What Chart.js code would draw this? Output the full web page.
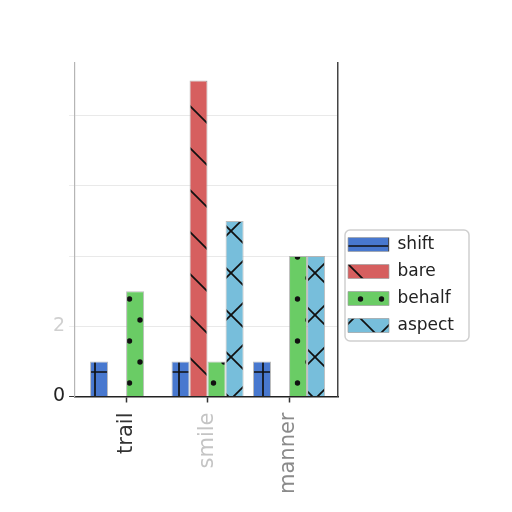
<!DOCTYPE html>
<html>
<head>
<meta charset="utf-8">
<script src="https://cdn.jsdelivr.net/npm/chart.js@4.4.1/dist/chart.umd.min.js"></script>
<style>
  html, body { margin: 0; padding: 0; background: #fff; }
  #wrap { width: 512px; height: 512px; }
</style>
</head>
<body>
<div id="wrap"><canvas id="myChart"></canvas></div>
<script>
// data
const categories = ["trail", "smile", "manner"];
const seriesNames = ["shift", "bare", "behalf", "aspect"];
const shiftValues = [1, 1, 1];
const bareValues = [0, 9, 0];
const behalfValues = [3, 1, 4];
const aspectValues = [0, 5, 4];
const yTickLabels = ["0", "2"];

// hatch patterns (matplotlib style, aligned to the canvas)
const P = 42;
function hatch(color, w, h, draw) {
  const c = document.createElement("canvas");
  c.width = w;
  c.height = h;
  const g = c.getContext("2d");
  g.fillStyle = color;
  g.fillRect(0, 0, w, h);
  g.strokeStyle = "#111";
  g.fillStyle = "#111";
  g.lineWidth = 1.7;
  draw(g);
  return g.createPattern(c, "repeat");
}
function line(g, x1, y1, x2, y2) {
  g.beginPath();
  g.moveTo(x1, y1);
  g.lineTo(x2, y2);
  g.stroke();
}
const plusHatch = hatch("#4878cf", P, P, (g) => {
  line(g, 11, 0, 11, P);
  line(g, 0, 36, P, 36);
});
const backHatch = hatch("#d65f5f", P, P, (g) => {
  line(g, -P, -P, 2 * P, 2 * P);
  line(g, -P, 0, P, 2 * P);
  line(g, 0, -P, 2 * P, P);
});
const dotHatch = hatch("#6acc65", 21, P, (g) => {
  [[3.5, 5], [14, 26]].forEach(([x, y]) => {
    g.beginPath();
    g.arc(x, y, 2.7, 0, Math.PI * 2);
    g.fill();
  });
});
const crossHatch = hatch("#77bedb", P, P, (g) => {
  line(g, -P, -P, 2 * P, 2 * P);
  line(g, -P, 0, P, 2 * P);
  line(g, 0, -P, 2 * P, P);
  line(g, -P, P, P, -P);
  line(g, -P, 2 * P, 2 * P, -P);
  line(g, 0, 2 * P, 2 * P, 0);
});

const fills = [plusHatch, backHatch, dotHatch, crossHatch];
const allValues = [shiftValues, bareValues, behalfValues, aspectValues];
const tickColors = ["#333", "#c4c4c4", "#8a8a8a"];

//legend moved next to the axes + rounded frame
const legendSpot = {
  id: "legendSpot",
  afterLayout(chart) {
    const lg = chart.legend;
    lg.left = 338;
    lg.top = 226;
    lg.right = 505;
    lg.bottom = 370;
    lg.width = lg.right - lg.left;
    lg.height = lg.bottom - lg.top;
  },
  afterDraw(chart) {
    const { ctx } = chart;
    const lg = chart.legend;
    ctx.save();
    ctx.strokeStyle = "#cfcfcf";
    ctx.lineWidth = 1.5;
    ctx.beginPath();
    ctx.roundRect(lg.left + 7, lg.top + 4, 124, 111, 5);
    ctx.stroke();
    ctx.restore();
  },
};

const ctx = document.getElementById("myChart").getContext("2d");
const chart = new Chart(ctx, {
  type: "bar",
  data: {
    datasets: seriesNames.map((name, s) => ({
      label: name,
      data: allValues[s].map((v, i) => ({ x: i, y: v })),
      backgroundColor: fills[s],
      borderColor: "rgba(160,160,160,0.7)",
      borderWidth: 1,
      categoryPercentage: 0.885,
      barPercentage: 1.0,
    })),
  },
  options: {
    responsive: true,
    maintainAspectRatio: false,
    animation: false,
    layout: {
      padding: { left: 49, right: 174, top: 63, bottom: 8 },
    },
    plugins: {
      legend: {
        position: "chartArea",
        align: "start",
        labels: {
          boxWidth: 41,
          boxHeight: 14,
          padding: 10,
          color: "#222",
          font: { family: "DejaVu Sans", size: 17 },
        },
      },
      tooltip: { enabled: false },
    },
    scales: {
      x: {
        type: "linear",
        offset: false,
        min: -0.626,
        max: 2.601,
        afterBuildTicks: (axis) => {
          axis.ticks = categories.map((c, i) => ({ value: i }));
        },
        grid: {
          offset: false,
          drawOnChartArea: false,
          tickLength: 6,
          tickWidth: 1.5,
          tickColor: "#333",
        },
        border: { color: "#222", width: 1.5 },
        ticks: {
          callback: (v) => categories[v],
          minRotation: 90,
          maxRotation: 90,
          padding: 10,
          color: (c) => tickColors[c.index],
          font: { family: "DejaVu Sans", size: 21 },
        },
      },
      y: {
        min: 0,
        max: 9.5,
        z: 1,
        afterBuildTicks: (axis) => {
          axis.ticks = [0, 2, 4, 6, 8].map((v) => ({ value: v }));
        },
        grid: {
          color: (c) => (c.tick.value === 0 ? "rgba(0,0,0,0)" : "rgba(225,225,225,0.75)"),
          tickColor: (c) => (c.tick.value === 0 ? "#333" : "rgba(220,220,220,0.5)"),
          tickLength: 6,
        },
        border: { color: "#b5b5b5", width: 1.2 },
        ticks: {
          callback: (v, i) => yTickLabels[i] || "",
          color: (c) => (c.tick.value === 0 ? "#222" : "#d0d0d0"),
          padding: 4,
          font: { family: "DejaVu Sans", size: 19 },
        },
      },
      y2: {
        position: "right",
        grid: { display: false, drawTicks: false },
        ticks: { display: false },
        border: { color: "#444", width: 1.5 },
      },
    },
  },
  plugins: [legendSpot],
});
</script>
</body>
</html>
